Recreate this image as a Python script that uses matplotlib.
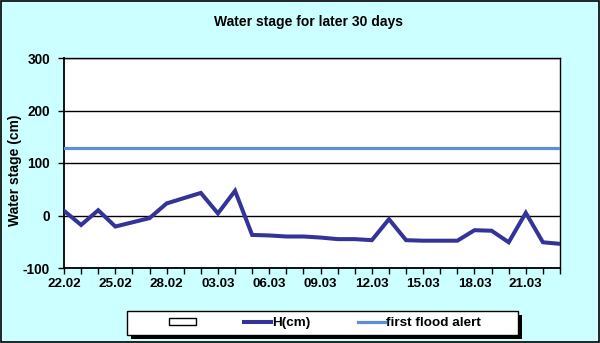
import matplotlib
matplotlib.use("Agg")
import matplotlib.pyplot as plt
from matplotlib.patches import Patch, Rectangle
from matplotlib.lines import Line2D

# 22.02 .. 23.03 daily readings
dates = ["22.02", "23.02", "24.02", "25.02", "26.02", "27.02", "28.02",
         "01.03", "02.03", "03.03", "04.03", "05.03", "06.03", "07.03",
         "08.03", "09.03", "10.03", "11.03", "12.03", "13.03", "14.03",
         "15.03", "16.03", "17.03", "18.03", "19.03", "20.03", "21.03",
         "22.03", "23.03"]
stage = [9, -18, 10, -21, -13, -5, 23, 33, 43, 4, 47, -37, -38, -40,
         -40, -42, -45, -45, -47, -7, -47, -48, -48, -48, -28, -29,
         -51, 5, -51, -54]
flood_alert = 128
yticks = [-100, 0, 100, 200, 300]

plt.rcParams['font.family'] = ['Liberation Sans', 'DejaVu Sans']
plt.rcParams['font.weight'] = 'bold'

W, H = 600, 343
fig = plt.figure(figsize=(6, 3.43), dpi=100, facecolor='#ccffff')
ax = fig.add_axes([64/W, 1-268/H, 496/W, 210/H])
ax.set_facecolor('white')

x = list(range(len(dates)))
ax.plot(x, stage, color='#333399', lw=2.9, solid_joinstyle='miter', zorder=3)
ax.plot([x[0], x[-1]], [flood_alert, flood_alert], color='#5b8fd6', lw=2.3, zorder=3)

ax.set_xlim(0, len(dates) - 1)
ax.set_ylim(-100, 300)
ax.set_yticks(yticks)
ax.set_yticklabels([str(v) for v in yticks], fontsize=9.8, fontweight='bold')
ax.set_xticks(x)
ax.set_xticklabels([d if i % 3 == 0 else '' for i, d in enumerate(dates)],
                   fontsize=9.7, fontweight='bold')
ax.tick_params(axis='y', length=4, width=1, pad=6, direction='out')
ax.tick_params(axis='x', length=4, width=1, pad=3.5, direction='out')
ax.grid(axis='y', color='black', lw=1)
ax.set_axisbelow(True)
for s in ax.spines.values():
    s.set_color('black')
    s.set_linewidth(1)
ax.spines['left'].set_linewidth(1.3)
ax.spines['bottom'].set_linewidth(1.3)

fig.text(15.5/W, 1-170/H, 'Water stage (cm)', rotation=90, ha='center', va='center',
         fontsize=10, fontweight='bold')
fig.text(309/W, 1-22/H, 'Water stage for later 30 days', ha='center', va='center',
         fontsize=10, fontweight='bold')

# legend box with hard black shadow
bx0, bx1, by0, by1 = 127, 518, 311, 335
fig.patches.append(Rectangle(((bx0+3.5)/W, 1-(by1+3.5)/H), (bx1-bx0)/W, (by1-by0)/H,
                             transform=fig.transFigure, facecolor='black',
                             edgecolor='black', lw=0, zorder=1))
fig.patches.append(Rectangle((bx0/W, 1-by1/H), (bx1-bx0)/W, (by1-by0)/H,
                             transform=fig.transFigure, facecolor='white',
                             edgecolor='black', lw=1, zorder=2))

handles = [Patch(facecolor='white', edgecolor='black', lw=1),
           Line2D([], [], color='#333399', lw=2.9),
           Line2D([], [], color='#5b8fd6', lw=2.3)]
labels = ['', 'H(cm)', 'first flood alert']
leg = fig.legend(handles, labels, loc='center', ncol=3,
                 bbox_to_anchor=(325/W, 1-323/H),
                 frameon=False, prop={'size': 9.7, 'weight': 'bold'},
                 handlelength=2.0, handleheight=0.45, handletextpad=0.1,
                 columnspacing=3.5, borderaxespad=0, borderpad=0)
leg.set_zorder(5)

fig.patches.append(Rectangle((0.001, 0.002), 0.997, 0.995, transform=fig.transFigure,
                             fill=False, edgecolor='black', lw=1.2))

fig.savefig('out.png', dpi=100, facecolor=fig.get_facecolor())
